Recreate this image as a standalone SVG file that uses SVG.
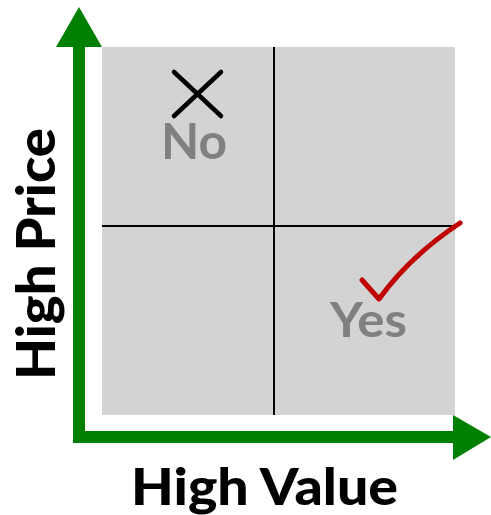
<svg xmlns="http://www.w3.org/2000/svg" width="491" height="515" viewBox="0 0 491 515">
<style>
.lbl{font-family:Lato,"Noto Sans",sans-serif;font-weight:900;fill:#000}
.q{font-family:Lato,"Noto Sans",sans-serif;font-weight:700;fill:#808080}
.div{stroke:#000;stroke-width:2;fill:none}
.axis{fill:#008000}
</style>
<rect width="491" height="515" fill="#fff"/>
<g id="quadrant">
<rect x="102" y="47" width="353" height="368" fill="#d3d3d3"/>
</g>
<g id="connectors">
<line class="div" x1="274" y1="47" x2="274" y2="415"/>
<line class="div" x1="102" y1="226" x2="455" y2="226"/>
<rect class="axis" x="73" y="44" width="12" height="399"/>
<polygon class="axis" points="56,47 102,47 79,7"/>
<rect class="axis" x="73" y="431" width="382" height="12"/>
<polygon class="axis" points="453,415 453,460 491,437"/>
</g>
<g id="no">
<path d="M174,72 L221,116 M221,72 L174,116" stroke="#000" stroke-width="4.5" stroke-linecap="round" fill="none"/>
<text class="q" x="161" y="159" font-size="50" textLength="66" lengthAdjust="spacingAndGlyphs">No</text>
</g>
<g id="yes">
<path d="M362,280 L379,299 Q410,256 460,223" stroke="#c00000" stroke-width="5" stroke-linecap="round" stroke-linejoin="round" fill="none"/>
<text class="q" x="330" y="337" font-size="48" textLength="77" lengthAdjust="spacingAndGlyphs">Yes</text>
</g>
<g id="ylabel">
<text class="lbl" transform="translate(55,380) rotate(-90)" font-size="53" textLength="252" lengthAdjust="spacingAndGlyphs">High Price</text>
</g>
<g id="xlabel">
<text class="lbl" x="131" y="505" font-size="52" textLength="267" lengthAdjust="spacingAndGlyphs">High Value</text>
</g>
</svg>
